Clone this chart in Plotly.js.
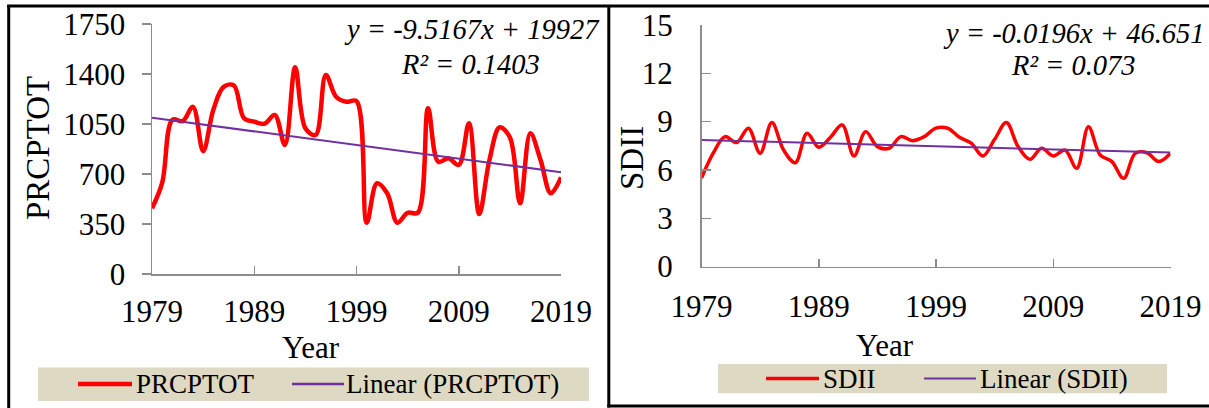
<!DOCTYPE html>
<html><head><meta charset="utf-8">
<script src="https://cdn.plot.ly/plotly-3.0.1.min.js"></script>
<style>html,body{margin:0;padding:0;background:#fff;} #chart{width:1209px;height:408px;}</style>
</head><body><div id="chart"></div>
<script>
// ---- data ----
const years = [1979,1980,1981,1982,1983,1984,1985,1986,1987,1988,1989,1990,1991,1992,1993,1994,1995,1996,1997,1998,1999,2000,2001,2002,2003,2004,2005,2006,2007,2008,2009,2010,2011,2012,2013,2014,2015,2016,2017,2018,2019];
const prcptot = [460,640,1080,1070,1170,860,1150,1310,1320,1090,1066,1052,1113,903,1447,1020,973,1393,1241,1206,1210,359,635,565,359,429,429,1160,786,810,763,1055,420,798,1027,957,495,985,798,565,677];
const sdii = [5.5,7.04,8.07,7.70,8.59,7.04,8.94,7.24,6.45,8.28,7.41,8.03,8.8,6.87,8.38,7.45,7.35,8.07,7.82,8.07,8.6,8.59,8.03,7.66,6.87,7.9,8.94,7.45,6.66,7.35,6.87,7.24,6.1,8.69,6.93,6.52,5.48,7.04,7.07,6.52,7.04];
const trendYears = [1979, 2019];
const prcptotTrend = [1093.5, 712.8];
const sdiiTrend = [7.863, 7.079];
const xTicks = [1979,1989,1999,2009,2019];
const prcptotTicks = [0,350,700,1050,1400,1750];
const sdiiTicks = [0,3,6,9,12,15];
const eqLeft = ['y = -9.5167x + 19927', 'R² = 0.1403'];
const eqRight = ['y = -0.0196x + 46.651', 'R² = 0.073'];
const legendLeft = ['PRCPTOT', 'Linear (PRCPTOT)'];
const legendRight = ['SDII', 'Linear (SDII)'];

// ---- helpers (pixel -> paper) ----
const W = 1209, H = 408;
const px = x => x / W;
const py = y => 1 - y / H;
const FONT = 'Liberation Serif';
const GRAY = '#8c8c8c';
const RED = '#ff0000';
const PURPLE = '#7030a0';

const traces = [
  {x: years, y: prcptot, type: 'scatter', mode: 'lines', name: legendLeft[0],
   line: {color: RED, width: 4.5, shape: 'spline', smoothing: 1}, xaxis: 'x', yaxis: 'y', showlegend: false},
  {x: trendYears, y: prcptotTrend, type: 'scatter', mode: 'lines', name: legendLeft[1],
   line: {color: PURPLE, width: 2}, xaxis: 'x', yaxis: 'y', showlegend: false},
  {x: years, y: sdii, type: 'scatter', mode: 'lines', name: legendRight[0],
   line: {color: RED, width: 3.5, shape: 'spline', smoothing: 1}, xaxis: 'x2', yaxis: 'y2', showlegend: false},
  {x: trendYears, y: sdiiTrend, type: 'scatter', mode: 'lines', name: legendRight[1],
   line: {color: PURPLE, width: 2}, xaxis: 'x2', yaxis: 'y2', showlegend: false}
];

const tickFont = {family: FONT, size: 31, color: '#000'};
const baseAxis = {showgrid: false, zeroline: false, showline: true, linecolor: GRAY, linewidth: 1.5,
  tickcolor: GRAY, tickwidth: 1.5, tickfont: tickFont, tickmode: 'array', fixedrange: true};

const layout = {
  width: W, height: H, margin: {l: 0, r: 0, t: 0, b: 0}, paper_bgcolor: '#fff', plot_bgcolor: 'rgba(0,0,0,0)',
  showlegend: false,
  xaxis: Object.assign({}, baseAxis, {domain: [px(152), px(561)], range: [1979, 2019], tickvals: xTicks,
    ticks: 'inside', ticklen: 8, anchor: 'y', ticklabelstandoff: 9}),
  yaxis: Object.assign({}, baseAxis, {domain: [py(274), py(24)], range: [0, 1750], tickvals: prcptotTicks,
    ticks: 'outside', ticklen: 9, anchor: 'x', ticklabelstandoff: 10}),
  xaxis2: Object.assign({}, baseAxis, {domain: [px(701.5), px(1170.5)], range: [1979, 2019], tickvals: xTicks,
    ticks: 'inside', ticklen: 8, anchor: 'y2', ticklabelstandoff: 12}),
  yaxis2: Object.assign({}, baseAxis, {domain: [py(266.6), py(25)], range: [0, 15], tickvals: sdiiTicks,
    ticks: 'inside', ticklen: 9, anchor: 'x2', ticklabelstandoff: 21}),
  shapes: [
    // frames
    {type: 'line', xref: 'paper', yref: 'paper', x0: px(8.7), x1: px(8.7), y0: 0, y1: py(5), line: {color: '#000', width: 3}},
    {type: 'line', xref: 'paper', yref: 'paper', x0: px(7.2), x1: 1, y0: py(6), y1: py(6), line: {color: '#000', width: 3}},
    {type: 'line', xref: 'paper', yref: 'paper', x0: px(608.8), x1: px(608.8), y0: py(407.5), y1: py(5), line: {color: '#000', width: 3}},
    {type: 'line', xref: 'paper', yref: 'paper', x0: px(607.3), x1: 1, y0: py(406), y1: py(406), line: {color: '#000', width: 3}},
    // legend boxes
    {type: 'rect', xref: 'paper', yref: 'paper', x0: px(38), x1: px(589), y0: py(401), y1: py(367.5), fillcolor: '#ddd9c3', line: {width: 0}, layer: 'below'},
    {type: 'rect', xref: 'paper', yref: 'paper', x0: px(718), x1: px(1167), y0: py(393.3), y1: py(364), fillcolor: '#ddd9c3', line: {width: 0}, layer: 'below'},
    // legend samples
    {type: 'line', xref: 'paper', yref: 'paper', x0: px(78), x1: px(132), y0: py(384), y1: py(384), line: {color: RED, width: 4.5}},
    {type: 'line', xref: 'paper', yref: 'paper', x0: px(292), x1: px(344), y0: py(384), y1: py(384), line: {color: PURPLE, width: 2.5}},
    {type: 'line', xref: 'paper', yref: 'paper', x0: px(766), x1: px(819), y0: py(378.5), y1: py(378.5), line: {color: RED, width: 3.5}},
    {type: 'line', xref: 'paper', yref: 'paper', x0: px(924), x1: px(976), y0: py(378.5), y1: py(378.5), line: {color: PURPLE, width: 2}}
  ],
  annotations: [
    // axis titles
    {text: 'PRCPTOT', xref: 'paper', yref: 'paper', x: px(38), y: py(148), showarrow: false, textangle: -90,
     font: {family: FONT, size: 33, color: '#000'}, xanchor: 'center', yanchor: 'middle'},
    {text: 'Year', xref: 'paper', yref: 'paper', x: px(311), y: py(347), showarrow: false,
     font: {family: FONT, size: 31, color: '#000'}, xanchor: 'center', yanchor: 'middle'},
    {text: 'SDII', xref: 'paper', yref: 'paper', x: px(632), y: py(158), showarrow: false, textangle: -90,
     font: {family: FONT, size: 33, color: '#000'}, xanchor: 'center', yanchor: 'middle'},
    {text: 'Year', xref: 'paper', yref: 'paper', x: px(885), y: py(345), showarrow: false,
     font: {family: FONT, size: 31, color: '#000'}, xanchor: 'center', yanchor: 'middle'},
    // equations
    {text: '<i>' + eqLeft[0] + '</i>', xref: 'paper', yref: 'paper', x: px(472), y: py(30), showarrow: false,
     font: {family: FONT, size: 28.5, color: '#000'}, xanchor: 'center', yanchor: 'middle'},
    {text: '<i>' + eqLeft[1] + '</i>', xref: 'paper', yref: 'paper', x: px(470), y: py(64), showarrow: false,
     font: {family: FONT, size: 28.5, color: '#000'}, xanchor: 'center', yanchor: 'middle'},
    {text: '<i>' + eqRight[0] + '</i>', xref: 'paper', yref: 'paper', x: px(1074), y: py(33), showarrow: false,
     font: {family: FONT, size: 28.5, color: '#000'}, xanchor: 'center', yanchor: 'middle'},
    {text: '<i>' + eqRight[1] + '</i>', xref: 'paper', yref: 'paper', x: px(1073), y: py(65), showarrow: false,
     font: {family: FONT, size: 28.5, color: '#000'}, xanchor: 'center', yanchor: 'middle'},
    // legend labels
    {text: legendLeft[0], xref: 'paper', yref: 'paper', x: px(134), y: py(384), showarrow: false,
     font: {family: FONT, size: 27, color: '#000'}, xanchor: 'left', yanchor: 'middle'},
    {text: legendLeft[1], xref: 'paper', yref: 'paper', x: px(344), y: py(384), showarrow: false,
     font: {family: FONT, size: 27, color: '#000'}, xanchor: 'left', yanchor: 'middle'},
    {text: legendRight[0], xref: 'paper', yref: 'paper', x: px(821), y: py(378.5), showarrow: false,
     font: {family: FONT, size: 27, color: '#000'}, xanchor: 'left', yanchor: 'middle'},
    {text: legendRight[1], xref: 'paper', yref: 'paper', x: px(978), y: py(378.5), showarrow: false,
     font: {family: FONT, size: 27, color: '#000'}, xanchor: 'left', yanchor: 'middle'}
  ]
};

Plotly.newPlot('chart', traces, layout, {displayModeBar: false, staticPlot: true});
</script>
</body></html>
